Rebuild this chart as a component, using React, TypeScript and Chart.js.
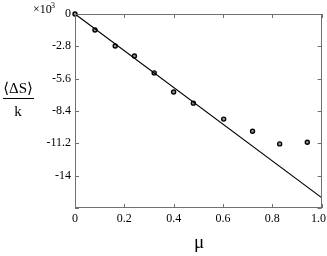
import React, { useEffect, useRef } from "react";
import { Chart, registerables } from "chart.js";
Chart.register(...registerables);

const muValues = [0, 0.081, 0.163, 0.241, 0.321, 0.4, 0.48, 0.603, 0.72, 0.83, 0.942];
const entropyValues = [0, -1.39, -2.77, -3.64, -5.1, -6.75, -7.72, -9.1, -10.15, -11.25, -11.1];
const fitMu = [0, 1.0];
const fitValues = [0, -15.9];
const xTicks = [0, 0.2, 0.4, 0.6, 0.8, 1.0];
const yTicks = [0, -2.8, -5.6, -8.4, -11.2, -14, -16.8];
const yTickLabels = ["0", "-2.8", "-5.6", "-8.4", "-11.2", "-14", ""];
const xTickLabels = ["0", "0.2", "0.4", "0.6", "0.8", "1.0\u2002"];

const FONT = '"Liberation Serif", "Times New Roman", Tinos, "DejaVu Serif", serif';

const decorPlugin = {
  id: "decor",
  afterDraw(chart: any) {
    const ctx = chart.ctx;
    const { left, right, top, bottom } = chart.chartArea;
    const xs = chart.scales.x;
    const ys = chart.scales.y;
    ctx.save();
    ctx.strokeStyle = "#707070";
    ctx.lineWidth = 1;
    ctx.beginPath();
    yTicks.forEach((v) => {
      const y = Math.round(ys.getPixelForValue(v)) + 0.5;
      ctx.moveTo(left, y);
      ctx.lineTo(left + 4, y);
      ctx.moveTo(right, y);
      ctx.lineTo(right - 4, y);
    });
    xTicks.forEach((v) => {
      const x = Math.round(xs.getPixelForValue(v)) + 0.5;
      ctx.moveTo(x, top);
      ctx.lineTo(x, top + 4);
      ctx.moveTo(x, bottom);
      ctx.lineTo(x, bottom - 4);
    });
    ctx.stroke();
    ctx.strokeRect(Math.round(left) + 0.5, Math.round(top) + 0.5, Math.round(right - left) - 1, Math.round(bottom - top) - 1);

    ctx.fillStyle = "#000";
    ctx.textBaseline = "alphabetic";
    ctx.textAlign = "left";
    ctx.font = `12px ${FONT}`;
    ctx.fillText("×10", 33, 13);
    ctx.font = `8px ${FONT}`;
    ctx.fillText("3", 51, 8);

    ctx.textAlign = "center";
    ctx.font = `15px ${FONT}`;
    ctx.fillText("⟨ΔS⟩", 18, 93);
    ctx.beginPath();
    ctx.strokeStyle = "#000";
    ctx.moveTo(3, 98.5);
    ctx.lineTo(34, 98.5);
    ctx.stroke();
    ctx.fillText("k", 18, 116);

    ctx.font = `19px ${FONT}`;
    ctx.fillText("μ", 199, 248);
    ctx.restore();
  },
};

export default function App() {
  const ref = useRef<HTMLCanvasElement>(null);
  useEffect(() => {
    const chart = new Chart(ref.current!, {
      type: "scatter",
      data: {
        datasets: [
          {
            type: "line",
            data: fitMu.map((x, i) => ({ x, y: fitValues[i] })),
            borderColor: "#000",
            borderWidth: 1.2,
            pointRadius: 0,
            fill: false,
          } as any,
          {
            data: muValues.map((x, i) => ({ x, y: entropyValues[i] })),
            pointStyle: "circle",
            pointRadius: 2,
            borderColor: "#000",
            borderWidth: 1.4,
            backgroundColor: "#999",
            clip: false,
          } as any,
        ],
      },
      options: {
        animation: false,
        responsive: false,
        maintainAspectRatio: false,
        layout: { padding: { left: 0, right: 4, top: 14, bottom: 0 } },
        plugins: { legend: { display: false }, tooltip: { enabled: false } },
        scales: {
          x: {
            type: "linear",
            min: 0,
            max: 1,
            grid: { display: false, drawTicks: false, tickLength: 0 },
            border: { display: false },
            afterBuildTicks: (s: any) => {
              s.ticks = xTicks.map((v) => ({ value: v }));
            },
            afterFit: (s: any) => {
              s.height = 48;
              s.paddingLeft = 0;
              s.paddingRight = 0;
            },
            ticks: {
              color: "#000",
              font: { family: FONT, size: 12 },
              padding: 4,
              maxRotation: 0,
              autoSkip: false,
              callback: (_v: any, i: number) => xTickLabels[i],
            },
          },
          y: {
            type: "linear",
            min: -16.8,
            max: 0,
            grid: { display: false, drawTicks: false, tickLength: 0 },
            border: { display: false },
            afterBuildTicks: (s: any) => {
              s.ticks = yTicks.map((v) => ({ value: v }));
            },
            afterFit: (s: any) => {
              s.width = 75;
              s.paddingTop = 0;
              s.paddingBottom = 0;
            },
            ticks: {
              color: "#000",
              font: { family: FONT, size: 12 },
              padding: 4,
              autoSkip: false,
              callback: (v: any) => {
                const i = yTicks.findIndex((t) => Math.abs(t - v) < 1e-6);
                return i >= 0 ? yTickLabels[i] : "";
              },
            },
          },
        },
      },
      plugins: [decorPlugin],
    });
    return () => chart.destroy();
  }, []);
  return (
    <div style={{ position: "fixed", left: 0, top: 0, width: 327, height: 256, background: "#fff" }}>
      <canvas ref={ref} width={327} height={256} style={{ width: 327, height: 256 }} />
    </div>
  );
}
